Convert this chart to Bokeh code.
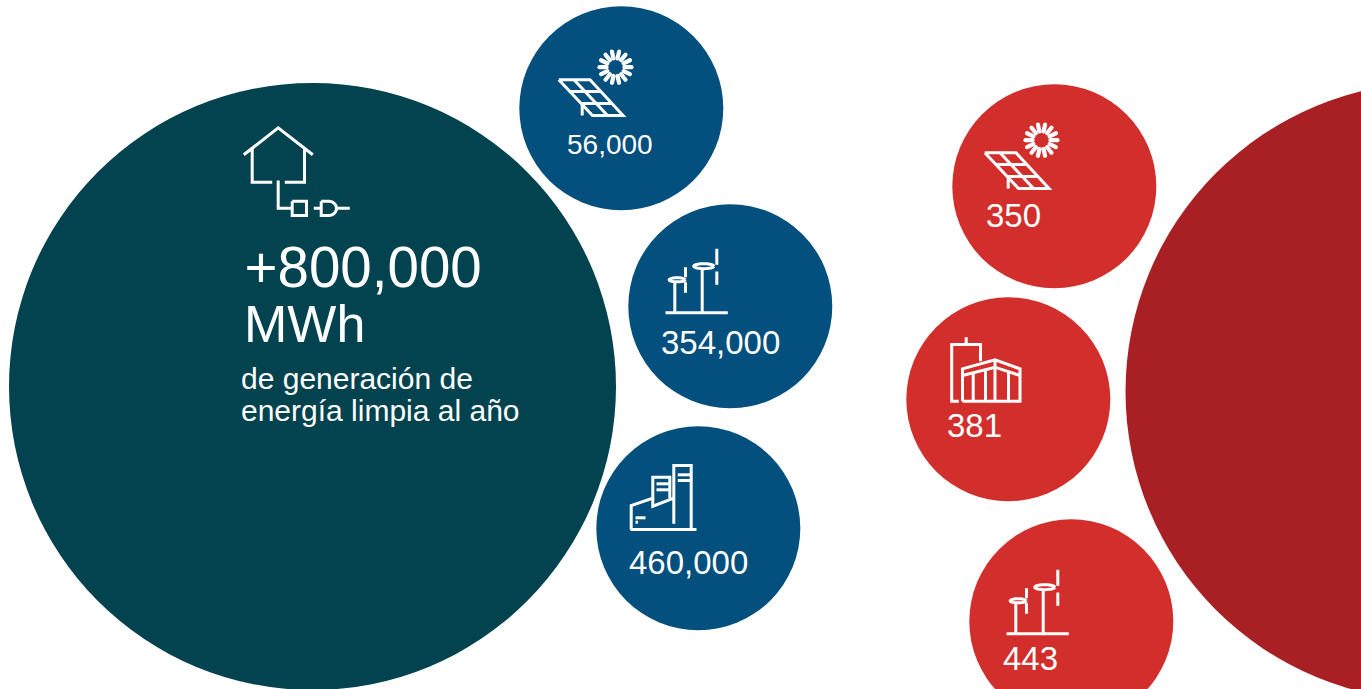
import math
from bokeh.plotting import figure
from bokeh.models import Range1d
from bokeh.core.properties import value
from bokeh.embed import file_html
from bokeh.resources import INLINE

W, H = 1361, 689
FONT = "Liberation Sans"
WHITE = "#ffffff"

# Data
headline = ["+800,000", "MWh"]
subtitle = ["de generación de", "energía limpia al año"]
blue_values = [56000, 354000, 460000]
red_values = [350, 381, 443]

# Bubble layout
main_x, main_y, main_r = [312], [386], [303.5]
blue_x, blue_y = [620.8, 729.8, 697.8], [107.8, 305.8, 527.8]
red_x, red_y = [1053.8, 1007.8, 1070.8], [185.8, 398.8, 620.8]
side_r = 102
big_x, big_y, big_r = [1434], [391], [309]

blue_label_x, blue_label_y = [566.5, 660.5, 628.5], [144, 342, 562]
blue_label_size = [28, 33, 33]
red_label_x, red_label_y = [985.5, 946.5, 1002.5], [215, 425, 658]
red_label_size = [33, 33, 33]

p = figure(width=W, height=H, x_range=Range1d(0, W), y_range=Range1d(H, 0),
           x_axis_location=None, y_axis_location=None, toolbar_location=None,
           output_backend="svg", min_border=0, outline_line_color=None,
           background_fill_color=WHITE, border_fill_color=WHITE)
p.grid.visible = False

p.circle(main_x, main_y, radius=main_r[0], color="#03434f", line_color=None)
p.circle(big_x, big_y, radius=big_r[0], color="#a82023", line_color=None)
p.circle(blue_x, blue_y, radius=side_r, color="#034f7d", line_color=None)
p.circle(red_x, red_y, radius=side_r, color="#d12e2c", line_color=None)


def strokes(paths, dx=0, dy=0, width=3.0):
    p.multi_line([[x + dx for x, _ in s] for s in paths],
                 [[y + dy for _, y in s] for s in paths],
                 line_color=WHITE, line_width=width, line_join="miter", line_cap="butt")


def ellipse_ring(cx, cy, w, h):
    return [(cx + w / 2 * math.cos(a * math.pi / 12), cy + h / 2 * math.sin(a * math.pi / 12)) for a in range(25)]


def plug_arc():
    pts = [(320.7, 200.7), (328, 200.7)]
    pts += [(328 + 8 * math.cos(a), 207.85 + 7.15 * math.sin(a))
            for a in [(-90 + i * 15) * math.pi / 180 for i in range(13)]]
    pts += [(320.7, 215), (320.7, 200.7)]
    return pts


house = [
    [(243.3, 154.3), (277.7, 127.3), (312.3, 154.3)],
    [(251.7, 148), (251.7, 181.7), (271.7, 181.7)],
    [(304, 148), (304, 181.7), (284.3, 181.7)],
    [(277.7, 180), (277.7, 207.7), (291.7, 207.7)],
    [(291.7, 200.7), (306, 200.7), (306, 215), (291.7, 215), (291.7, 200.7)],
    [(313.3, 207.7), (320.7, 207.7)],
    plug_arc(),
    [(336, 207.7), (349.3, 207.7)],
]
solar = [
    [(558.3, 79.3), (589.5, 79.3), (622.5, 115), (592, 115), (558.3, 79.3)],
    [(569.5, 91), (600.5, 91)],
    [(581, 103), (611.5, 103)],
    [(573.5, 79.3), (607, 115)],
    [(581.7, 103), (581.7, 115)],
]
wind = [
    [(665, 312.3), (727.3, 312.3)],
    [(674.3, 281.7), (674.3, 312.3)],
    [(701.7, 268), (701.7, 312.3)],
    ellipse_ring(676.7, 279.3, 16, 4),
    ellipse_ring(703.3, 265.7, 20, 5),
    [(685, 266.7), (685, 276.7)],
    [(685, 281.7), (685, 292.3)],
    [(716.3, 248.3), (716.3, 264.3)],
    [(716.3, 271), (716.3, 284.3)],
]
factory = [
    [(630, 529), (696, 529)],
    [(630.7, 529), (630.7, 505), (652.3, 497.7), (652.3, 476.7), (669.3, 476.7), (669.3, 498)],
    [(652.3, 497.7), (652.3, 505.7), (673.3, 497.7)],
    [(673.3, 523.3), (673.3, 465), (690.7, 465), (690.7, 529)],
    [(656, 483.3), (669.3, 483.3)],
    [(656, 489.3), (669.3, 489.3)],
    [(677.3, 474.3), (690.7, 474.3)],
    [(677.3, 480), (690.7, 480)],
    [(635, 517.3), (645, 517.3)],
    [(635, 521.7), (637.5, 521.7)],
]
warehouse = [
    [(958.3, 400.7), (951.2, 400.7), (951.2, 344), (980, 344), (980, 360.7)],
    [(965.7, 336.7), (965.7, 344)],
    [(962, 400.7), (962, 368.3), (994.5, 359.3), (1019.5, 368.3), (1019.5, 400.7), (962, 400.7)],
    [(962, 375), (994.5, 366.7), (1019.5, 375)],
    [(994.5, 359.3), (994.5, 400.7)],
    [(972.7, 372.4), (972.7, 400.7)],
    [(985, 369.2), (985, 400.7)],
    [(1008, 371), (1008, 400.7)],
]


def sun(cx, cy, n=14, r0=9.0, r1=16.0):
    angs = [2 * math.pi * i / n for i in range(n)]
    p.segment([cx + r0 * math.cos(a) for a in angs], [cy + r0 * math.sin(a) for a in angs],
              [cx + r1 * math.cos(a) for a in angs], [cy + r1 * math.sin(a) for a in angs],
              line_color=WHITE, line_width=4.2, line_cap="round")


strokes(house)
strokes(solar)
sun(615, 66.7)
strokes(solar, 426, 73)
sun(1041, 139.7)
strokes(wind)
strokes(wind, 341, 321)
strokes(factory)
strokes(warehouse)


def label(x, y, text, size):
    p.text([x], [y], text=[text], text_font=value(FONT), text_font_size=f"{size}px",
           text_color=WHITE, text_align="left", text_baseline="middle")


label(244, 266.5, headline[0], 56.5)
label(243.5, 323, headline[1], 52)
label(240.5, 378, subtitle[0], 30)
label(240.5, 410, subtitle[1], 30)
for v, x, y, s in zip(blue_values, blue_label_x, blue_label_y, blue_label_size):
    label(x, y, f"{v:,}", s)
for v, x, y, s in zip(red_values, red_label_x, red_label_y, red_label_size):
    label(x, y, f"{v:,}", s)

open("out.html", "w").write(file_html(p, INLINE))
